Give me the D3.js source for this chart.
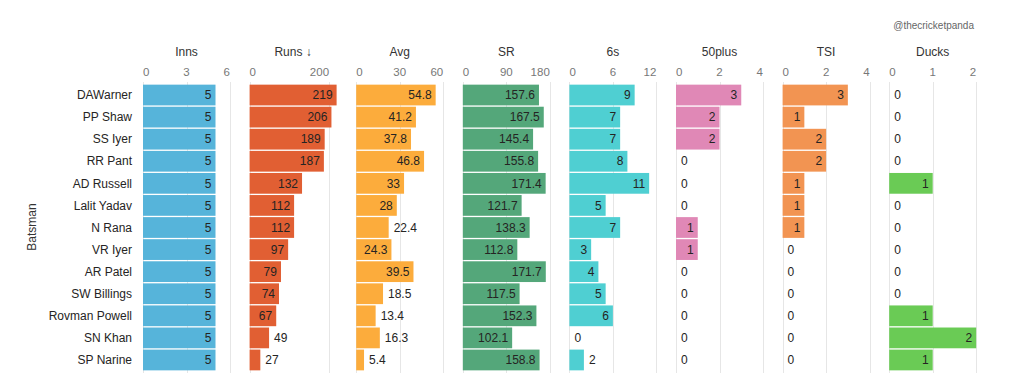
<!DOCTYPE html>
<html lang="en">
  <head>
    <meta charset="utf-8">
    <title>Batsman stats</title>
    <script src="https://d3js.org/d3.v7.js"></script>
    <style>
      body { margin: 0; background: #fff; }
      text { font-family: "Liberation Sans", Arial, sans-serif; }
    </style>
  </head>
  <body>
    <script>

  // data
  var batsmen = ["DAWarner", "PP Shaw", "SS Iyer", "RR Pant", "AD Russell", "Lalit Yadav", "N Rana",
                 "VR Iyer", "AR Patel", "SW Billings", "Rovman Powell", "SN Khan", "SP Narine"];
  var inns    = [5, 5, 5, 5, 5, 5, 5, 5, 5, 5, 5, 5, 5];
  var runs    = [219, 206, 189, 187, 132, 112, 112, 97, 79, 74, 67, 49, 27];
  var avg     = [54.8, 41.2, 37.8, 46.8, 33, 28, 22.4, 24.3, 39.5, 18.5, 13.4, 16.3, 5.4];
  var sr      = [157.6, 167.5, 145.4, 155.8, 171.4, 121.7, 138.3, 112.8, 171.7, 117.5, 152.3, 102.1, 158.8];
  var sixes   = [9, 7, 7, 8, 11, 5, 7, 3, 4, 5, 6, 0, 2];
  var fifties = [3, 2, 2, 0, 0, 0, 1, 1, 0, 0, 0, 0, 0];
  var tsi     = [3, 1, 2, 2, 1, 1, 1, 0, 0, 0, 0, 0, 0];
  var ducks   = [0, 0, 0, 0, 1, 0, 0, 0, 0, 0, 1, 2, 1];

  var measures = ["Inns", "Runs ↓", "Avg", "SR", "6s", "50plus", "TSI", "Ducks"];
  var values   = [inns, runs, avg, sr, sixes, fifties, tsi, ducks];
  var domainMax = [6, 219, 60, 180, 12, 4, 4, 2];
  var ticks = [[0, 3, 6], [0, 200], [0, 30, 60], [0, 90, 180], [0, 6, 12], [0, 2, 4], [0, 2, 4], [0, 1, 2]];
  var colors = ["#56b4da", "#e15f33", "#fcac3c", "#54a77a", "#4fcfd2", "#e088b6", "#f29452", "#6acb55"];

  // layout
  var w = 1013, h = 382;
  var panelLeft = 143, panelStep = 106.6, panelWidth = 87;

  var svg = d3.select("body")
    .append("svg")
    .attr("width", w)
    .attr("height", h);

  var yScale = d3.scaleBand()
    .domain(batsmen)
    .range([82, 373])
    .paddingInner(0.06)
    .paddingOuter(0.12);

  // watermark
  svg.append("text")
    .attr("x", 974)
    .attr("y", 25)
    .attr("dy", "0.35em")
    .attr("text-anchor", "end")
    .style("font-size", "10px")
    .style("fill", "#666")
    .text("@thecricketpanda");

  // y axis title
  svg.append("text")
    .attr("transform", "translate(36, 227) rotate(-90)")
    .attr("text-anchor", "middle")
    .style("font-size", "12px")
    .style("fill", "#333")
    .text("Batsman");

  // batsman names
  svg.append("g")
    .selectAll("text")
    .data(batsmen)
    .enter()
    .append("text")
    .attr("x", 132)
    .attr("y", d => yScale(d) + yScale.bandwidth() / 2)
    .attr("dy", "0.35em")
    .attr("text-anchor", "end")
    .style("font-size", "12px")
    .style("fill", "#252423")
    .text(d => d);

  // measure width of a label
  var probe = svg.append("text").style("font-size", "12px");
  function textWidth(s) {
    probe.text(s);
    return probe.node().getComputedTextLength();
  }

  measures.forEach(function(m, i) {
    var x0 = panelLeft + i * panelStep;
    var xScale = d3.scaleLinear()
      .domain([0, domainMax[i]])
      .range([x0, x0 + panelWidth]);

    var g = svg.append("g");

    // title
    g.append("text")
      .attr("x", x0 + panelWidth / 2)
      .attr("y", 52)
      .attr("dy", "0.35em")
      .attr("text-anchor", "middle")
      .style("font-size", "12px")
      .style("fill", "#333")
      .text(m);

    // grid
    g.selectAll("line.grid")
      .data(ticks[i])
      .enter()
      .append("line")
      .attr("class", "grid")
      .attr("x1", d => Math.round(xScale(d)) + 0.5)
      .attr("x2", d => Math.round(xScale(d)) + 0.5)
      .attr("y1", 82)
      .attr("y2", 373)
      .style("stroke", "#e6e6e6");

    // tick labels, first and last flushed
    var tk = ticks[i];
    g.selectAll("text.tick")
      .data(tk)
      .enter()
      .append("text")
      .attr("class", "tick")
      .attr("x", d => xScale(d))
      .attr("y", 72)
      .attr("dy", "0.35em")
      .attr("text-anchor", (d, j) => j === 0 ? "start" : (j === tk.length - 1 ? "end" : "middle"))
      .style("font-size", "11.5px")
      .style("fill", "#777")
      .text(d => d);

    // bars
    var vals = values[i];
    g.selectAll("rect")
      .data(vals)
      .enter()
      .append("rect")
      .attr("x", xScale(0))
      .attr("y", (d, j) => yScale(batsmen[j]))
      .attr("width", d => xScale(d) - xScale(0))
      .attr("height", yScale.bandwidth())
      .style("fill", colors[i]);

    // value labels
    g.selectAll("text.val")
      .data(vals)
      .enter()
      .append("text")
      .attr("class", "val")
      .each(function(d, j) {
        var bw = xScale(d) - xScale(0);
        var inside = bw >= textWidth(String(d)) + 10;
        d3.select(this)
          .attr("x", inside ? xScale(d) - 4 : xScale(d) + 5)
          .attr("text-anchor", inside ? "end" : "start")
          .attr("y", yScale(batsmen[j]) + yScale.bandwidth() / 2);
      })
      .attr("dy", "0.35em")
      .style("font-size", "12px")
      .style("fill", "#252423")
      .text(d => d);
  });

  probe.remove();

    </script>
  </body>
</html>
